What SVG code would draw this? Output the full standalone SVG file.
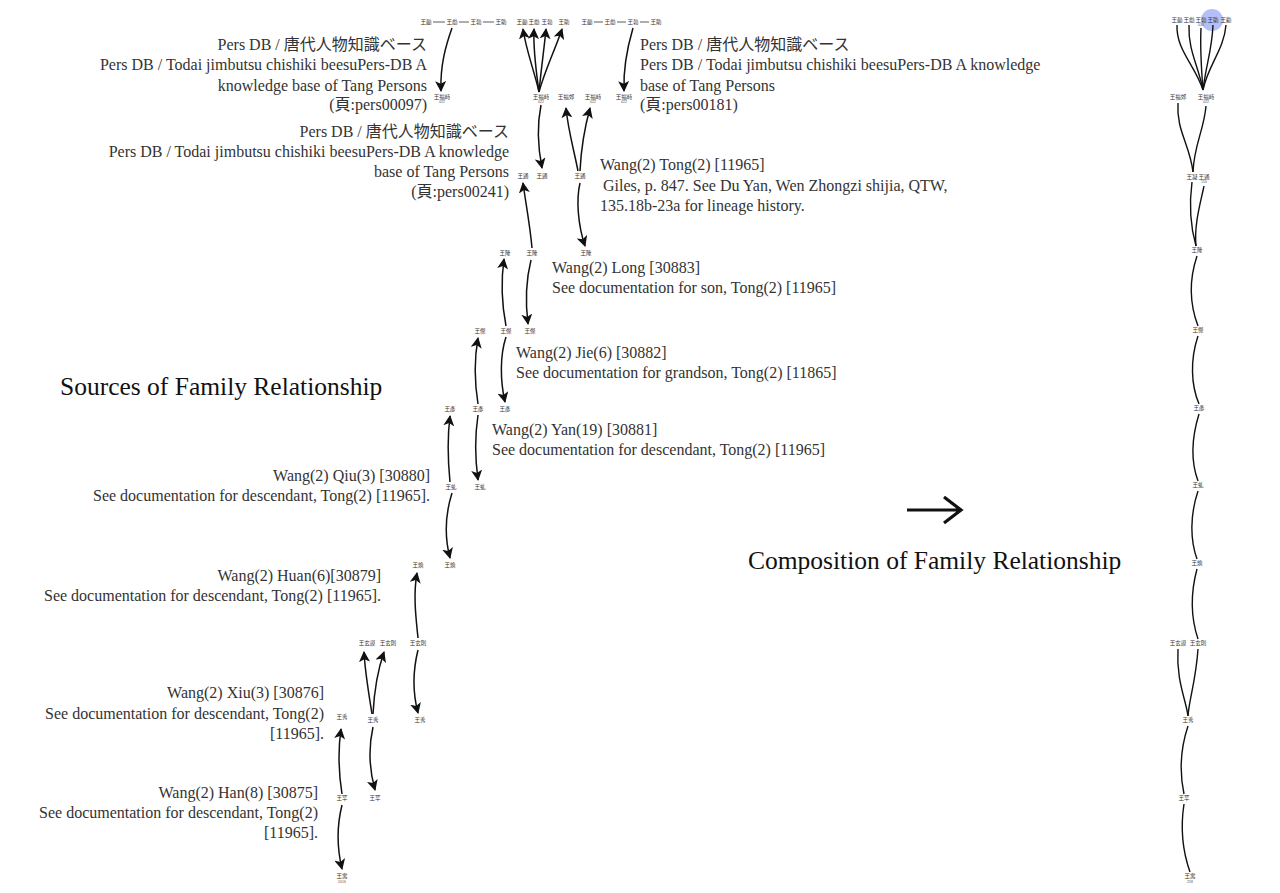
<svg xmlns="http://www.w3.org/2000/svg" width="1280" height="893" viewBox="0 0 1280 893">
<defs>
<marker id="ah" markerUnits="userSpaceOnUse" markerWidth="11" markerHeight="11" viewBox="0 0 10 10" refX="9" refY="5" orient="auto">
<path d="M0,0 L10,5 L0,10 L2.5,5 Z" fill="#111"/>
</marker>
<style>
.t{font-family:"Liberation Serif","Noto Sans CJK JP",serif;font-size:16px;fill:#333}
.h{font-family:"Liberation Serif",serif;font-size:25.5px;fill:#111}
.e{text-anchor:end}
.n{font-family:"Noto Sans CJK TC",sans-serif;font-size:5.5px;fill:#333;text-anchor:middle}
.k{font-family:"Liberation Sans",sans-serif;font-size:3.5px;fill:#555;text-anchor:middle}
.a{fill:none;stroke:#111;stroke-width:1.5;marker-end:url(#ah)}
.c{fill:none;stroke:#111;stroke-width:1.4}
.l{stroke:#333;stroke-width:0.8}
</style>
</defs>
<rect width="1280" height="893" fill="#fff"/>

<g id="annotations">
<text class="t e" x="427" y="50">Pers DB / 唐代人物知識ベース</text>
<text class="t e" x="427" y="70">Pers DB / Todai jimbutsu chishiki beesuPers-DB A</text>
<text class="t e" x="427" y="91">knowledge base of Tang Persons</text>
<text class="t e" x="427" y="110">(頁:pers00097)</text>

<text class="t" x="640" y="50">Pers DB / 唐代人物知識ベース</text>
<text class="t" x="640" y="70">Pers DB / Todai jimbutsu chishiki beesuPers-DB A knowledge</text>
<text class="t" x="640" y="91">base of Tang Persons</text>
<text class="t" x="640" y="110">(頁:pers00181)</text>

<text class="t e" x="509" y="137">Pers DB / 唐代人物知識ベース</text>
<text class="t e" x="509" y="157">Pers DB / Todai jimbutsu chishiki beesuPers-DB A knowledge</text>
<text class="t e" x="509" y="177">base of Tang Persons</text>
<text class="t e" x="509" y="197">(頁:pers00241)</text>

<text class="t" x="600" y="170">Wang(2) Tong(2) [11965]</text>
<text class="t" x="603" y="191">Giles, p. 847. See Du Yan, Wen Zhongzi shijia, QTW,</text>
<text class="t" x="600" y="211">135.18b-23a for lineage history.</text>

<text class="t" x="552" y="273">Wang(2) Long [30883]</text>
<text class="t" x="552" y="293">See documentation for son, Tong(2) [11965]</text>

<text class="t" x="516" y="358">Wang(2) Jie(6) [30882]</text>
<text class="t" x="516" y="378">See documentation for grandson, Tong(2) [11865]</text>

<text class="t" x="492" y="435">Wang(2) Yan(19) [30881]</text>
<text class="t" x="492" y="455">See documentation for descendant, Tong(2) [11965]</text>

<text class="t e" x="430" y="481">Wang(2) Qiu(3) [30880]</text>
<text class="t e" x="430" y="501">See documentation for descendant, Tong(2) [11965].</text>

<text class="t e" x="381" y="581">Wang(2) Huan(6)[30879]</text>
<text class="t e" x="381" y="601">See documentation for descendant, Tong(2) [11965].</text>

<text class="t e" x="324" y="698">Wang(2) Xiu(3) [30876]</text>
<text class="t e" x="324" y="719">See documentation for descendant, Tong(2)</text>
<text class="t e" x="324" y="739">[11965].</text>

<text class="t e" x="318" y="798">Wang(2) Han(8) [30875]</text>
<text class="t e" x="318" y="818">See documentation for descendant, Tong(2)</text>
<text class="t e" x="318" y="838">[11965].</text>

<text class="h" x="60" y="395">Sources of Family Relationship</text>
<text class="h" x="748" y="569">Composition of Family Relationship</text>
</g>

<g id="big-arrow">
<path d="M907,510 L960,510 M944,497 L961,510 L944,523" fill="none" stroke="#111" stroke-width="3.2"/>
</g>

<g id="source-nodes">
<g id="s1"><text class="n" x="426" y="24">王勔</text><text class="n" x="452" y="24">王勮</text><text class="n" x="476" y="24">王勃</text><text class="n" x="501" y="24">王助</text>
<line class="l" x1="433" y1="22" x2="445" y2="22"/><line class="l" x1="459" y1="22" x2="469" y2="22"/><line class="l" x1="483" y1="22" x2="494" y2="22"/></g>
<g id="s2"><text class="n" x="522" y="24">王勔</text><text class="n" x="534" y="24">王勮</text><text class="n" x="547" y="24">王勃</text><text class="n" x="564" y="24">王助</text></g>
<g id="s3"><text class="n" x="587" y="24">王勔</text><text class="n" x="610" y="24">王勮</text><text class="n" x="633" y="24">王勃</text><text class="n" x="656" y="24">王助</text>
<line class="l" x1="594" y1="22" x2="603" y2="22"/><line class="l" x1="617" y1="22" x2="626" y2="22"/><line class="l" x1="640" y1="22" x2="649" y2="22"/></g>
<g id="f1"><text class="n" x="442" y="99">王福畤</text><text class="k" x="442" y="103">022</text></g>
<g id="f2"><text class="n" x="541" y="99">王福畤</text><text class="k" x="541" y="103">022</text></g>
<g id="f3"><text class="n" x="566" y="99">王福郊</text></g>
<g id="f4"><text class="n" x="593" y="99">王福畤</text><text class="k" x="593" y="103">022</text></g>
<g id="f5"><text class="n" x="624" y="99">王福畤</text><text class="k" x="624" y="103">022</text></g>
<g id="t1"><text class="n" x="523" y="178">王通</text></g>
<g id="t2"><text class="n" x="542" y="178">王通</text></g>
<g id="t3"><text class="n" x="580" y="178">王通</text></g>
<g id="l1"><text class="n" x="505" y="255">王隆</text></g>
<g id="l2"><text class="n" x="532" y="255">王隆</text></g>
<g id="l3"><text class="n" x="586" y="255">王隆</text></g>
<g id="j1"><text class="n" x="480" y="333">王傑</text></g>
<g id="j2"><text class="n" x="506" y="333">王傑</text></g>
<g id="j3"><text class="n" x="530" y="333">王傑</text></g>
<g id="y1"><text class="n" x="450" y="411">王彥</text></g>
<g id="y2"><text class="n" x="478" y="411">王彥</text></g>
<g id="y3"><text class="n" x="505" y="411">王彥</text></g>
<g id="q1"><text class="n" x="451" y="489">王虬</text></g>
<g id="q2"><text class="n" x="480" y="489">王虬</text></g>
<g id="h1"><text class="n" x="418" y="567">王煥</text></g>
<g id="h2"><text class="n" x="450" y="567">王煥</text></g>
<g id="x1"><text class="n" x="367" y="645">王玄謨</text></g>
<g id="x2"><text class="n" x="388" y="645">王玄則</text></g>
<g id="x3"><text class="n" x="418" y="645">王玄則</text></g>
<g id="v1"><text class="n" x="342" y="719">王秀</text></g>
<g id="v2"><text class="n" x="373" y="722">王秀</text></g>
<g id="v3"><text class="n" x="420" y="722">王秀</text></g>
<g id="r1"><text class="n" x="342" y="800">王罕</text></g>
<g id="r2"><text class="n" x="375" y="800">王罕</text></g>
<g id="w1"><text class="n" x="342" y="878">王寓</text><text class="k" x="342" y="883">2016</text></g>
</g>

<g id="source-connectors">
<path class="a" d="M452,28 C446,45 440,65 441,91"/>
<path class="a" d="M539,92 C534,70 526,50 523,29"/>
<path class="a" d="M539,92 C536,70 533,50 534,29"/>
<path class="a" d="M539,92 C541,70 544,50 546,29"/>
<path class="a" d="M539,92 C545,70 555,50 562,29"/>
<path class="a" d="M633,28 C628,45 623,65 624,91"/>
<path class="a" d="M541,105 C537,125 538,148 542,168"/>
<path class="a" d="M578,171 C574,150 568,130 566,108"/>
<path class="a" d="M580,171 C581,150 584,130 590,108"/>
<path class="a" d="M580,183 C576,200 578,225 585,246"/>
<path class="a" d="M532,248 C530,225 526,205 523,183"/>
<path class="a" d="M531,260 C526,280 525,300 528,324"/>
<path class="a" d="M506,326 C502,305 501,280 504,259"/>
<path class="a" d="M478,404 C475,385 474,360 478,338"/>
<path class="a" d="M506,337 C500,355 500,380 505,402"/>
<path class="a" d="M450,482 C448,462 447,440 450,416"/>
<path class="a" d="M478,415 C475,435 475,458 478,480"/>
<path class="a" d="M452,493 C446,512 444,535 450,558"/>
<path class="a" d="M418,638 C416,618 413,595 417,573"/>
<path class="a" d="M418,650 C413,670 412,690 418,713"/>
<path class="a" d="M372,714 C369,695 365,672 364,652"/>
<path class="a" d="M373,714 C374,695 377,672 384,652"/>
<path class="a" d="M373,727 C369,745 368,765 375,790"/>
<path class="a" d="M342,794 C339,775 338,750 341,729"/>
<path class="a" d="M342,805 C337,825 337,848 342,869"/>
</g>

<g id="composition-nodes">
<circle cx="1212" cy="20" r="11" fill="#8c9cf2" fill-opacity="0.65"/>
<g id="c1"><text class="n" x="1177" y="22">王勔</text><text class="n" x="1189" y="22">王勮</text><text class="n" x="1201" y="22">王勃</text><text class="k" x="1201" y="26">030</text><text class="n" x="1213" y="22">王助</text><text class="n" x="1226" y="22">王勸</text></g>
<g id="c2"><text class="n" x="1178" y="99">王福郊</text><text class="n" x="1206" y="99">王福畤</text><text class="k" x="1206" y="103">022</text></g>
<g id="c3"><text class="n" x="1192" y="179">王凝</text><text class="n" x="1204" y="179">王通</text><text class="k" x="1204" y="183">150</text></g>
<g id="c4"><text class="n" x="1197" y="252">王隆</text></g>
<g id="c5"><text class="n" x="1198" y="332">王傑</text></g>
<g id="c6"><text class="n" x="1199" y="410">王彥</text></g>
<g id="c7"><text class="n" x="1198" y="487">王虬</text></g>
<g id="c8"><text class="n" x="1197" y="565">王煥</text></g>
<g id="c9"><text class="n" x="1178" y="645">王玄謨</text><text class="n" x="1198" y="645">王玄則</text></g>
<g id="c10"><text class="n" x="1188" y="722">王秀</text></g>
<g id="c11"><text class="n" x="1184" y="800">王罕</text></g>
<g id="c12"><text class="n" x="1190" y="878">王寓</text><text class="k" x="1190" y="883">258</text></g>
</g>

<g id="composition-connectors">
<path class="c" d="M1177,25 C1176,50 1195,65 1203,90"/>
<path class="c" d="M1189,25 C1188,50 1198,65 1203,90"/>
<path class="c" d="M1201,28 C1200,50 1201,65 1203,90"/>
<path class="c" d="M1213,25 C1212,50 1206,65 1203,90"/>
<path class="c" d="M1226,25 C1224,50 1208,65 1203,90"/>
<path class="c" d="M1178,103 C1176,130 1190,145 1193,172"/>
<path class="c" d="M1206,106 C1204,130 1194,145 1193,172"/>
<path class="c" d="M1192,182 C1189,205 1190,225 1196,246"/>
<path class="c" d="M1204,186 C1200,205 1194,225 1196,246"/>
<path class="c" d="M1197,256 C1189,280 1190,305 1198,326"/>
<path class="c" d="M1198,336 C1190,360 1191,385 1199,404"/>
<path class="c" d="M1199,414 C1191,440 1191,462 1198,481"/>
<path class="c" d="M1198,491 C1190,515 1190,540 1197,559"/>
<path class="c" d="M1197,569 C1190,595 1191,618 1198,639"/>
<path class="c" d="M1178,649 C1176,680 1186,700 1188,716"/>
<path class="c" d="M1198,649 C1196,680 1189,700 1188,716"/>
<path class="c" d="M1188,726 C1180,750 1180,775 1184,794"/>
<path class="c" d="M1184,804 C1180,830 1184,855 1190,872"/>
</g>
</svg>
